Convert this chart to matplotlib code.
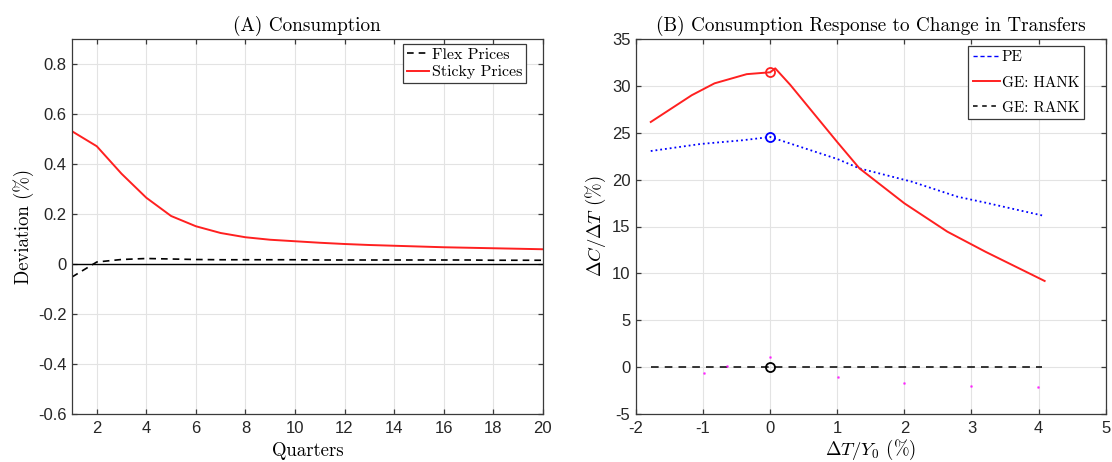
import numpy as np
import matplotlib
matplotlib.use('Agg')
import matplotlib.pyplot as plt
from matplotlib.lines import Line2D

plt.rcParams['mathtext.fontset'] = 'cm'
plt.rcParams['axes.unicode_minus'] = False

serif = ['cmr10', 'DejaVu Serif']
tickfont = 'Liberation Sans'
tickcol = '#262626'

# panel A: consumption deviation by quarter
quarters = np.arange(1, 21)
flex = [-0.052, 0.008, 0.018, 0.022, 0.02, 0.018, 0.017, 0.017, 0.017, 0.017,
        0.016, 0.016, 0.016, 0.016, 0.016, 0.016, 0.016, 0.015, 0.015, 0.015]
sticky = [0.531, 0.471, 0.361, 0.265, 0.192, 0.151, 0.124, 0.107, 0.097, 0.091,
          0.085, 0.08, 0.076, 0.073, 0.07, 0.067, 0.065, 0.063, 0.061, 0.059]

# panel B: consumption response vs transfer size
dT_hank = [-1.78, -1.17, -0.83, -0.35, 0.0, 0.075, 0.3, 1.0, 1.33, 2.0, 2.64, 3.21, 4.09]
hank = [26.15, 29.0, 30.27, 31.25, 31.45, 31.87, 30.1, 24.0, 21.2, 17.47, 14.45, 12.3, 9.19]
dT_pe = [-1.78, -1.04, -0.41, 0.0, 1.0, 1.33, 2.11, 2.79, 3.21, 4.09]
pe = [23.05, 23.8, 24.2, 24.55, 22.2, 21.2, 19.78, 18.18, 17.54, 16.12]
dT_rank = [-1.78, 4.05]
rank = [0.0, 0.0]
dT_dots = [-0.98, -0.64, 0.0, 1.01, 1.99, 2.99, 3.99]
dots = [-0.59, 0.07, 1.1, -1.02, -1.73, -2.01, -2.09]
# values at zero transfer (circled)
c_pe, c_hank, c_rank = 24.55, 31.45, 0.0

fig = plt.figure(figsize=(11.12, 4.62), dpi=100)
ax1 = fig.add_axes([72/1112, 48/462, 470.7/1112, 375/462])
ax2 = fig.add_axes([636/1112, 48/462, 469.7/1112, 375/462])


def style(ax):
    ax.grid(True, color='#e3e3e3', lw=0.8)
    ax.set_axisbelow(True)
    for s in ax.spines.values():
        s.set_color('#3a3a3a')
        s.set_linewidth(0.9)
    ax.tick_params(direction='in', length=3.5, width=0.9, color='#3a3a3a',
                   top=True, right=True, labelsize=12, labelcolor=tickcol)
    ax.tick_params(axis='x', pad=5)
    ax.tick_params(axis='y', pad=4)
    for lab in ax.get_xticklabels() + ax.get_yticklabels():
        lab.set_fontfamily(tickfont)


# (A)
ax1.plot(quarters, flex, '--', color='black', lw=1.2, dashes=(4, 3), label='Flex Prices')
ax1.plot(quarters, sticky, '-', color='#ff2020', lw=1.4, label='Sticky Prices')
ax1.plot([1, 20], [0, 0], '-', color='black', lw=1.0)
ax1.set_xlim(1, 20)
ax1.set_ylim(-0.6, 0.9)
ax1.set_xticks(np.arange(2, 21, 2))
ax1.set_yticks(np.arange(-0.6, 0.81, 0.2))
ax1.set_yticklabels(['-0.6', '-0.4', '-0.2', '0', '0.2', '0.4', '0.6', '0.8'])
style(ax1)
ax1.set_title('(A) Consumption', family=serif, fontsize=13.8, pad=6)
ax1.set_xlabel('Quarters', family=serif, fontsize=13.5, labelpad=4)
ax1.set_ylabel('Deviation (%)', family=serif, fontsize=13.5, labelpad=3)
leg1 = ax1.legend(loc='upper right', bbox_to_anchor=(0.9646, 0.987),
                  prop={'family': serif, 'size': 11.5},
                  fancybox=False, edgecolor='#3a3a3a', framealpha=1,
                  handlelength=1.4, handletextpad=0.15, labelspacing=0.2,
                  borderpad=0.25, borderaxespad=0)
leg1.get_frame().set_linewidth(0.9)

# (B)
ax2.plot(dT_pe, pe, ':', color='blue', lw=1.3)
ax2.plot(dT_hank, hank, '-', color='#ff2020', lw=1.4)
ax2.plot(dT_rank, rank, '--', color='black', lw=1.1, dashes=(5, 4))
ax2.plot(dT_dots, dots, '.', color='magenta', ms=2, alpha=0.6)
ax2.plot([0], [c_pe], 'o', mfc='none', mec='blue', ms=6.5, mew=1.3)
ax2.plot([0], [c_hank], 'o', mfc='none', mec='#ff2020', ms=6.5, mew=1.3)
ax2.plot([0], [c_rank], 'o', mfc='none', mec='black', ms=6.5, mew=1.3)
ax2.set_xlim(-2, 5)
ax2.set_ylim(-5, 35)
ax2.set_xticks(np.arange(-2, 6, 1))
ax2.set_yticks(np.arange(-5, 36, 5))
style(ax2)
ax2.set_title('(B) Consumption Response to Change in Transfers', family=serif,
              fontsize=13.8, pad=6)
ax2.set_xlabel(r'$\Delta T/Y_0$ (%)', family=serif, fontsize=13.5, labelpad=1.5)
ax2.set_ylabel(r'$\Delta C/\Delta T$ (%)', family=serif, fontsize=13.5, labelpad=3)
handles = [Line2D([], [], color='blue', ls='--', lw=1.0, dashes=(3, 2)),
           Line2D([], [], color='#ff2020', ls='-', lw=1.4),
           Line2D([], [], color='black', ls='--', lw=1.1, dashes=(3, 3))]
leg2 = ax2.legend(handles, ['PE', 'GE: HANK', 'GE: RANK'], loc='upper right',
                  bbox_to_anchor=(0.9538, 0.981),
                  prop={'family': serif, 'size': 11}, fancybox=False,
                  edgecolor='#3a3a3a', framealpha=1, handlelength=1.8,
                  handletextpad=0.1, labelspacing=0.75, borderpad=0.3,
                  borderaxespad=0)
leg2.get_frame().set_linewidth(0.9)

fig.savefig('out.png', dpi=100)
